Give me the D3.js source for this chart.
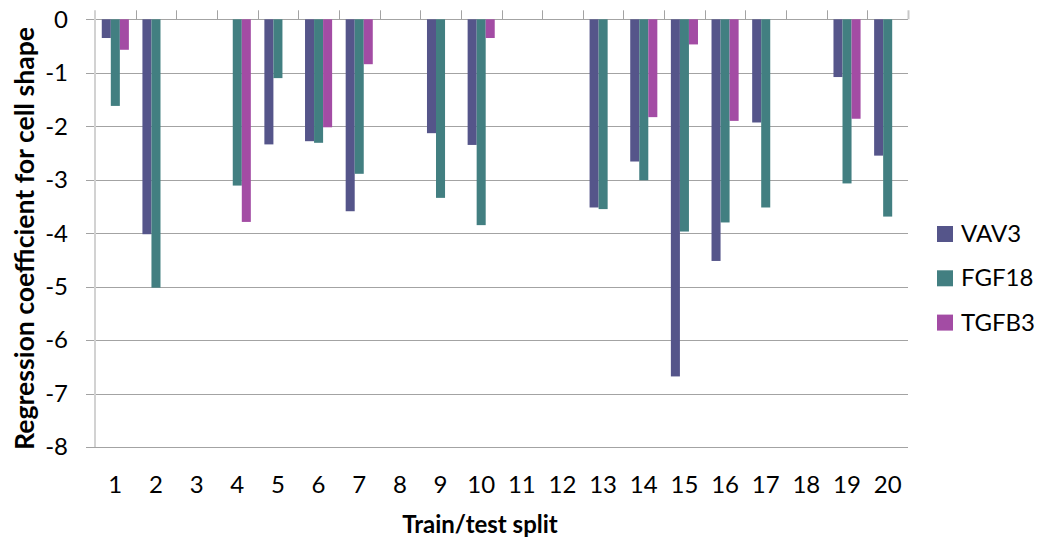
<!DOCTYPE html>
<html>
<head>
<meta charset="utf-8">
<script src="https://cdn.jsdelivr.net/npm/d3@7"></script>
<style>
  html, body { margin: 0; padding: 0; background: #ffffff; }
  svg text { font-family: Lato, "Noto Sans", sans-serif; fill: #000; }
</style>
</head>
<body>
<svg id="chart" width="1039" height="540"></svg>
<script>
// Train/test splits along the category axis
const splits = ["1","2","3","4","5","6","7","8","9","10","11","12","13","14","15","16","17","18","19","20"];

// Regression coefficients per gene (null = gene not selected in that split)
const vav3  = [-0.35, -4.02, null, null, -2.34, -2.28, -3.59, null, -2.13, -2.35, null, null, -3.52, -2.66, -6.68, -4.52, -1.93, null, -1.08, -2.55];
const fgf18 = [-1.62, -5.02, null, -3.11, -1.10, -2.31, -2.89, null, -3.34, -3.85, null, null, -3.55, -3.01, -3.97, -3.80, -3.52, null, -3.07, -3.69];
const tgfb3 = [-0.57, null, null, -3.79, null, -2.02, -0.84, null, null, -0.35, null, null, null, -1.83, -0.47, -1.90, null, null, -1.86, null];

const seriesNames = ["VAV3", "FGF18", "TGFB3"];
const seriesValues = [vav3, fgf18, tgfb3];
const seriesColors = ["#55558a", "#427f81", "#a34ca4"];

const yTicks = [0, -1, -2, -3, -4, -5, -6, -7, -8];

const svg = d3.select("#chart");

const plot = { left: 95, right: 908, top: 19.3, bottom: 447 };

const x = d3.scaleBand()
  .domain(splits)
  .range([plot.left, plot.right])
  .paddingInner(1 / 3)
  .paddingOuter(1 / 6);

const xs = d3.scaleBand()
  .domain(seriesNames)
  .range([0, x.bandwidth()]);

const y = d3.scaleLinear()
  .domain([-8, 0])
  .range([plot.bottom, plot.top]);

const step = x.step();

// horizontal gridlines (including the zero line used by the category axis)
svg.append("g")
  .selectAll("line")
  .data(yTicks)
  .join("line")
  .attr("x1", plot.left - 9)
  .attr("x2", plot.right)
  .attr("y1", d => Math.round(y(d)) + 0.5)
  .attr("y2", d => Math.round(y(d)) + 0.5)
  .attr("stroke", "#a3a3a3")
  .attr("stroke-width", 1);

// vertical value axis line
svg.append("line")
  .attr("x1", plot.left)
  .attr("x2", plot.left)
  .attr("y1", plot.top - 9)
  .attr("y2", plot.bottom)
  .attr("stroke", "#d2d2d2")
  .attr("stroke-width", 2);

// category boundary tick marks rising above the zero line
svg.append("g")
  .selectAll("line")
  .data(d3.range(1, splits.length + 1))
  .join("line")
  .attr("x1", i => Math.round(plot.left + i * step) + 0.5)
  .attr("x2", i => Math.round(plot.left + i * step) + 0.5)
  .attr("y1", plot.top - 9)
  .attr("y2", plot.top)
  .attr("stroke", i => i === splits.length ? "#c8c8c8" : "#a3a3a3")
  .attr("stroke-width", i => i === splits.length ? 2 : 1);

// bars
const groups = svg.append("g")
  .selectAll("g")
  .data(seriesNames.map((name, k) => ({ name, k })))
  .join("g")
  .attr("fill", d => seriesColors[d.k]);

groups.selectAll("rect")
  .data(d => splits.map((s, i) => ({ split: s, value: seriesValues[d.k][i], name: d.name }))
    .filter(v => v.value !== null))
  .join("rect")
  .attr("x", d => x(d.split) + xs(d.name))
  .attr("width", xs.bandwidth())
  .attr("y", y(0))
  .attr("height", d => y(d.value) - y(0));

// value axis labels
svg.append("g")
  .selectAll("text")
  .data(yTicks)
  .join("text")
  .attr("x", 68)
  .attr("y", d => y(d))
  .attr("dy", "0.35em")
  .attr("text-anchor", "end")
  .attr("font-size", 24)
  .text(d => d3.format("d")(d).replace("−", "-"));

// category labels
svg.append("g")
  .selectAll("text")
  .data(splits)
  .join("text")
  .attr("x", d => x(d) + x.bandwidth() / 2)
  .attr("y", 493)
  .attr("text-anchor", "middle")
  .attr("font-size", 24)
  .text(d => d);

// axis titles
svg.append("text")
  .attr("x", 480)
  .attr("y", 533)
  .attr("text-anchor", "middle")
  .attr("font-size", 24)
  .attr("font-weight", "bold")
  .text("Train/test split");

svg.append("text")
  .attr("transform", "translate(34,238.5) rotate(-90)")
  .attr("text-anchor", "middle")
  .attr("font-size", 26)
  .attr("font-weight", "bold")
  .attr("textLength", 423)
  .attr("lengthAdjust", "spacingAndGlyphs")
  .text("Regression coefficient for cell shape");

// legend
const legend = svg.append("g")
  .selectAll("g")
  .data(seriesNames)
  .join("g")
  .attr("transform", (d, i) => `translate(937, ${234 + i * 44.3})`);

legend.append("rect")
  .attr("x", 0)
  .attr("y", -8)
  .attr("width", 16)
  .attr("height", 16)
  .attr("fill", (d, i) => seriesColors[i]);

legend.append("text")
  .attr("x", 24)
  .attr("y", 8)
  .attr("font-size", 24)
  .text(d => d);
</script>
</body>
</html>
